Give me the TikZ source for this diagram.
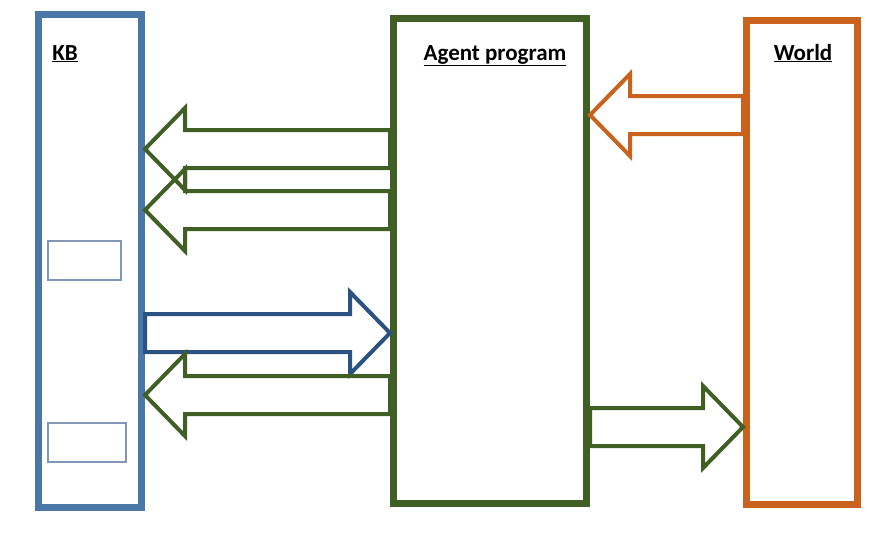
\documentclass[tikz,border=0pt]{standalone}
\usepackage{fontspec}
\setmainfont{Carlito}
\usetikzlibrary{calc}
\definecolor{kbblue}{HTML}{4A76A8}
\definecolor{agentgreen}{HTML}{3F5F25}
\definecolor{worldorange}{HTML}{C9621C}
\definecolor{flowblue}{HTML}{2C5282}
\definecolor{slotgray}{HTML}{8197B5}
\tikzset{
  panel/.style   = {rectangle, draw, line width=7pt, minimum width=#1, inner sep=0pt},
  kbbox/.style   = {panel=103pt, draw=kbblue, minimum height=493pt},
  agentbox/.style= {panel=193pt, draw=agentgreen, minimum height=485pt},
  worldbox/.style= {panel=111pt, draw=worldorange, minimum height=484pt},
  slot/.style    = {rectangle, draw=slotgray, line width=2pt, minimum height=39pt, inner sep=0pt},
  title/.style   = {font=\fontsize{23}{28}\selectfont\bfseries, anchor=base, inner sep=0pt},
  barrow/.style  = {line width=4pt, line join=miter}
}
% block arrow from tail (#2) to tip (#3)
\newcommand{\blockarrow}[3][]{%
  \draw[barrow,#1] let \p1=(#2), \p2=(#3), \p3=($(#3)!40pt!(#2)$) in
    (\x1,\y1+19pt) -- (\x3,\y1+19pt) -- (\x3,\y1+41pt) -- (\x2,\y2)
    -- (\x3,\y1-41pt) -- (\x3,\y1-19pt) -- (\x1,\y1-19pt) -- cycle;}
\begin{document}
\begin{tikzpicture}[x=1pt, y=-1pt]
    \useasboundingbox (0,0) rectangle (886,544);
    \node[kbbox] (kb) at (90,261) {};
    \node[agentbox] (agent) at (490,261) {};
    \node[worldbox] (world) at (802,262.5) {};
    \node[slot, minimum width=73pt] (slotA) at (84.5,260.5) {};
    \node[slot, minimum width=78pt] (slotB) at (87,442.5) {};
    \node[title] (kbtitle) at (65,60) {\underline{KB}};
    \node[title] (agenttitle) at (495,60) {\underline{Agent program}};
    \node[title] (worldtitle) at (803,60) {\underline{World}};
    \blockarrow[draw=agentgreen]{agent.west |- 0,149}{kb.east |- 0,149}
    \blockarrow[draw=agentgreen]{agent.west |- 0,210}{kb.east |- 0,210}
    \blockarrow[draw=flowblue]{kb.east |- 0,333}{agent.west |- 0,333}
    \blockarrow[draw=agentgreen]{agent.west |- 0,395}{kb.east |- 0,395}
    \blockarrow[draw=worldorange]{world.west |- 0,115}{agent.east |- 0,115}
    \blockarrow[draw=agentgreen]{agent.east |- 0,427}{world.west |- 0,427}
\end{tikzpicture}
\end{document}
